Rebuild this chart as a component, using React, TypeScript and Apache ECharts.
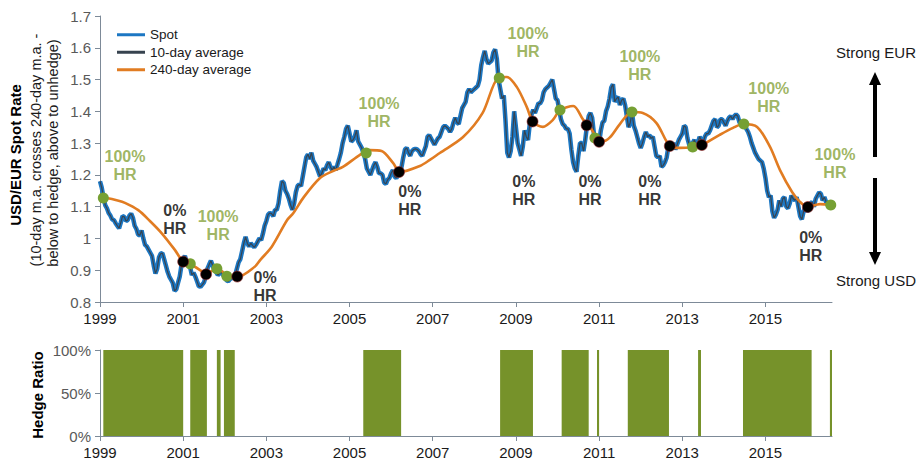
import React, { useEffect, useRef } from "react";
import * as echarts from "echarts";

// ---------- DATA ----------
const SPOT_START = 1999;
const SPOT_STEPS_PER_YEAR = 24; // semi-monthly readings

const spot1999_2003 = [
  1.180, 1.160, 1.130, 1.105, 1.095, 1.080, 1.072, 1.060, 1.058, 1.048, 1.040, 1.032, 1.050, 1.070, 1.068, 1.055, 1.058, 1.072, 1.078, 1.065, 1.040, 1.030, 1.012, 1.010,
  1.025, 1.000, 0.980, 0.975, 0.965, 0.955, 0.945, 0.915, 0.890, 0.905, 0.940, 0.952, 0.954, 0.935, 0.915, 0.895, 0.880, 0.870, 0.860, 0.835, 0.840, 0.860, 0.880, 0.915,
  0.935, 0.945, 0.925, 0.920, 0.910, 0.885, 0.892, 0.880, 0.865, 0.850, 0.848, 0.855, 0.862, 0.880, 0.905, 0.918, 0.930, 0.915, 0.900, 0.895, 0.885, 0.890, 0.895, 0.885,
  0.880, 0.868, 0.865, 0.872, 0.875, 0.880, 0.885, 0.905, 0.925, 0.935, 0.960, 0.985, 1.005, 0.985, 0.975, 0.985, 0.978, 0.972, 0.980, 0.990, 1.000, 0.995, 1.015, 1.040,
  1.055, 1.075, 1.080, 1.078, 1.070, 1.090, 1.090, 1.110, 1.150, 1.180, 1.175, 1.150, 1.140, 1.125, 1.105, 1.090, 1.110, 1.145, 1.165, 1.170, 1.165, 1.195, 1.225, 1.255,
];
const spot2004_2008 = [
  1.265, 1.250, 1.270, 1.245, 1.235, 1.225, 1.210, 1.195, 1.205, 1.220, 1.215, 1.230, 1.240, 1.225, 1.215, 1.225, 1.215, 1.232, 1.250, 1.270, 1.300, 1.320, 1.345, 1.355,
  1.330, 1.305, 1.310, 1.320, 1.340, 1.305, 1.295, 1.285, 1.270, 1.250, 1.220, 1.210, 1.200, 1.215, 1.230, 1.240, 1.225, 1.205, 1.205, 1.200, 1.175, 1.172, 1.185, 1.190,
  1.205, 1.215, 1.195, 1.190, 1.200, 1.210, 1.225, 1.255, 1.280, 1.285, 1.270, 1.260, 1.275, 1.280, 1.282, 1.280, 1.275, 1.265, 1.260, 1.275, 1.290, 1.320, 1.325, 1.315,
  1.305, 1.295, 1.305, 1.315, 1.320, 1.335, 1.350, 1.355, 1.350, 1.345, 1.335, 1.345, 1.365, 1.380, 1.365, 1.360, 1.385, 1.410, 1.420, 1.430, 1.460, 1.470, 1.460, 1.465,
  1.470, 1.475, 1.480, 1.500, 1.545, 1.570, 1.590, 1.565, 1.550, 1.555, 1.560, 1.585, 1.595, 1.565, 1.500, 1.470, 1.440, 1.450, 1.370, 1.270, 1.255, 1.275, 1.320, 1.400,
];
const spot2009_2013 = [
  1.350, 1.300, 1.280, 1.260, 1.290, 1.340, 1.320, 1.310, 1.360, 1.390, 1.405, 1.395, 1.410, 1.425, 1.425, 1.435, 1.460, 1.470, 1.475, 1.480, 1.490, 1.500, 1.470, 1.440,
  1.435, 1.405, 1.375, 1.360, 1.355, 1.345, 1.345, 1.330, 1.280, 1.240, 1.220, 1.210, 1.260, 1.300, 1.300, 1.275, 1.310, 1.355, 1.385, 1.395, 1.380, 1.330, 1.315, 1.325,
  1.300, 1.340, 1.365, 1.370, 1.400, 1.415, 1.440, 1.475, 1.485, 1.430, 1.440, 1.445, 1.420, 1.435, 1.440, 1.420, 1.385, 1.350, 1.365, 1.395, 1.355, 1.340, 1.320, 1.300,
  1.285, 1.300, 1.320, 1.335, 1.320, 1.325, 1.315, 1.320, 1.290, 1.260, 1.255, 1.260, 1.225, 1.230, 1.240, 1.255, 1.290, 1.300, 1.295, 1.300, 1.280, 1.295, 1.310, 1.320,
  1.330, 1.355, 1.350, 1.315, 1.295, 1.285, 1.300, 1.310, 1.295, 1.300, 1.320, 1.310, 1.300, 1.320, 1.330, 1.330, 1.340, 1.355, 1.370, 1.375, 1.350, 1.355, 1.375, 1.375,
];
const spot2014_2016 = [
  1.365, 1.355, 1.370, 1.380, 1.385, 1.375, 1.385, 1.390, 1.385, 1.365, 1.360, 1.365, 1.360, 1.345, 1.335, 1.320, 1.300, 1.285, 1.270, 1.260, 1.250, 1.245, 1.240, 1.220,
  1.190, 1.150, 1.130, 1.135, 1.085, 1.065, 1.075, 1.090, 1.120, 1.100, 1.125, 1.130, 1.100, 1.095, 1.110, 1.135, 1.125, 1.120, 1.130, 1.100, 1.070, 1.060, 1.085, 1.095,
  1.085, 1.090, 1.110, 1.115, 1.100, 1.125, 1.135, 1.145, 1.140, 1.120, 1.130, 1.115, 1.105, 1.110,
];

// 240-day moving average, [year, rate]
const ma240 = [
  [1999.0, 1.13], [1999.16, 1.127], [1999.4, 1.12], [1999.6, 1.112], [1999.92, 1.089], [2000.2, 1.055],
  [2000.48, 1.017], [2000.8, 0.964], [2001.0, 0.927], [2001.28, 0.911], [2001.56, 0.891], [2001.7, 0.898],
  [2001.84, 0.904], [2002.08, 0.882], [2002.32, 0.88], [2002.72, 0.911], [2002.85, 0.932], [2003.13, 0.974],
  [2003.5, 1.058], [2003.65, 1.08], [2003.9, 1.13], [2004.29, 1.19], [2004.6, 1.212], [2004.84, 1.225],
  [2005.25, 1.263], [2005.49, 1.278], [2005.77, 1.275], [2006.05, 1.237], [2006.21, 1.209], [2006.69, 1.228],
  [2006.93, 1.247], [2007.17, 1.269], [2007.73, 1.319], [2008.2, 1.395], [2008.57, 1.505], [2008.78, 1.508],
  [2009.02, 1.477], [2009.26, 1.414], [2009.41, 1.367], [2009.65, 1.351], [2009.89, 1.373], [2010.06, 1.404],
  [2010.38, 1.417], [2010.62, 1.373], [2010.78, 1.351], [2010.95, 1.316], [2011.07, 1.305], [2011.26, 1.318],
  [2011.5, 1.36], [2011.79, 1.398], [2012.05, 1.395], [2012.38, 1.363], [2012.7, 1.291], [2012.94, 1.285],
  [2013.26, 1.288], [2013.47, 1.294], [2013.9, 1.326], [2014.22, 1.348], [2014.46, 1.36], [2014.8, 1.351],
  [2015.11, 1.288], [2015.35, 1.215], [2015.64, 1.146], [2015.83, 1.115], [2016.02, 1.099], [2016.31, 1.108],
  [2016.6, 1.105],
];

// crossing markers, [year, rate]
const hedgeOnPoints = [
  [1999.08, 1.127], [2001.17, 0.92], [2001.81, 0.905], [2002.05, 0.881], [2005.4, 1.269], [2008.6, 1.505],
  [2010.06, 1.404], [2010.9, 1.316], [2011.79, 1.398], [2013.25, 1.288], [2014.48, 1.36], [2016.57, 1.105],
];
const hedgeOffPoints = [
  [2001.0, 0.927], [2001.55, 0.887], [2002.3, 0.88], [2006.19, 1.209], [2009.4, 1.368], [2010.7, 1.356],
  [2011.0, 1.304], [2012.7, 1.291], [2013.47, 1.294], [2016.02, 1.099],
];

// annotation anchors, [year, rate]
const hedgeOnNotes = [
  [1999.6, 1.228], [2001.84, 1.042], [2005.71, 1.395], [2009.29, 1.618], [2011.98, 1.543], [2015.08, 1.445], [2016.67, 1.237],
];
const hedgeOffNotes = [
  [2000.8, 1.061], [2002.97, 0.85], [2006.45, 1.118], [2009.19, 1.152], [2010.78, 1.152], [2012.22, 1.152], [2016.09, 0.976],
];

// hedge (100%) periods, [start, end]
const hedgePeriods = [
  [1999.08, 2001.0], [2001.17, 2001.57], [2001.81, 2001.9], [2001.98, 2002.24], [2005.33, 2006.24],
  [2008.62, 2009.41], [2010.1, 2010.75], [2010.95, 2011.0], [2011.69, 2012.68], [2013.38, 2013.45],
  [2014.46, 2016.11], [2016.55, 2016.6],
];

const yearTicks = [1999, 2001, 2003, 2005, 2007, 2009, 2011, 2013, 2015];
const X_MIN = 1999;
const X_MAX = 2016.6;

// ---------- STYLE ----------
const FONT = "'Liberation Sans', Arial, sans-serif";
const BLUE = "#1c77c3";
const DARK = "#37434f";
const ORANGE = "#e17c22";
const GREEN_TEXT = "#86a23a";
const GREEN_DOT = "#76a033";
const GREEN_BAR = "#76922a";
const AXIS = "#7d8a98";

export default function App() {
  const ref = useRef<HTMLDivElement>(null);

  useEffect(() => {
    if (!ref.current) return;
    const chart = echarts.init(ref.current, null, { renderer: "svg" });

    const spotAll = [...spot1999_2003, ...spot2004_2008, ...spot2009_2013, ...spot2014_2016];
    const spotData = spotAll.map((v, i) => [SPOT_START + i / SPOT_STEPS_PER_YEAR, v]);

    const hedgeData: number[][] = [];
    hedgePeriods.forEach(([s, e]) => {
      hedgeData.push([s, 0], [s, 100], [e, 100], [e, 0]);
    });

    const xAxisCommon = {
      type: "value",
      min: X_MIN,
      max: X_MAX,
      splitLine: { show: false },
      axisLine: { show: true, onZero: false, lineStyle: { color: AXIS, width: 1 } },
      axisTick: { show: true, length: 5, lineStyle: { color: AXIS }, customValues: yearTicks },
      axisLabel: {
        customValues: yearTicks,
        color: "#1a1a1a",
        fontSize: 15,
        fontFamily: FONT,
        margin: 9,
        formatter: (v: number) => String(Math.round(v)),
      },
    };

    const noteLabel = (text: string, color: string) => ({
      show: true,
      position: "inside",
      formatter: text,
      color,
      fontSize: 16,
      fontWeight: "bold",
      lineHeight: 18,
      fontFamily: FONT,
    });

    chart.setOption({
      animation: false,
      textStyle: { fontFamily: FONT },
      grid: [
        { left: 100, top: 16, width: 732, height: 286 },
        { left: 100, top: 350, width: 732, height: 86 },
      ],
      xAxis: [
        { ...xAxisCommon, gridIndex: 0 },
        { ...xAxisCommon, gridIndex: 1 },
      ],
      yAxis: [
        {
          type: "value",
          gridIndex: 0,
          min: 0.8,
          max: 1.7,
          interval: 0.1,
          splitLine: { show: false },
          axisLine: { show: true, lineStyle: { color: AXIS } },
          axisTick: { show: true, length: 5, lineStyle: { color: AXIS } },
          axisLabel: { color: "#595959", fontSize: 15, fontFamily: FONT, margin: 9 },
        },
        {
          type: "value",
          gridIndex: 1,
          min: 0,
          max: 100,
          interval: 50,
          splitLine: { show: false },
          axisLine: { show: true, lineStyle: { color: AXIS } },
          axisTick: { show: true, length: 5, lineStyle: { color: AXIS } },
          axisLabel: { color: "#595959", fontSize: 15, fontFamily: FONT, margin: 9, formatter: "{value}%" },
        },
      ],
      legend: {
        left: 112,
        top: 22,
        orient: "vertical",
        itemWidth: 28,
        itemHeight: 3,
        itemGap: 2,
        icon: "rect",
        data: [
          { name: "Spot", itemStyle: { color: BLUE } },
          { name: "10-day average", itemStyle: { color: DARK } },
          { name: "240-day average", itemStyle: { color: ORANGE } },
        ],
        textStyle: { fontSize: 13.5, lineHeight: 15.5, color: "#1a1a1a", fontFamily: FONT },
        selectedMode: false,
      },
      series: [
        {
          name: "Spot",
          type: "line",
          data: spotData,
          symbol: "none",
          lineStyle: { color: BLUE, width: 4.5 },
          itemStyle: { color: BLUE },
          z: 2,
        },
        {
          name: "10-day average",
          type: "line",
          data: spotData,
          symbol: "none",
          lineStyle: { color: DARK, width: 1.2 },
          itemStyle: { color: DARK },
          z: 3,
        },
        {
          name: "240-day average",
          type: "line",
          data: ma240,
          symbol: "none",
          smooth: 0.3,
          lineStyle: { color: ORANGE, width: 2.6 },
          itemStyle: { color: ORANGE },
          z: 4,
        },
        {
          name: "hedgeOn",
          type: "scatter",
          data: hedgeOnPoints,
          symbolSize: 11,
          itemStyle: { color: GREEN_DOT, opacity: 1 },
          z: 5,
        },
        {
          name: "hedgeOff",
          type: "scatter",
          data: hedgeOffPoints,
          symbolSize: 11,
          itemStyle: { color: "#000000", borderColor: "#9a2a2a", borderWidth: 0.6, opacity: 1 },
          z: 5,
        },
        {
          name: "onNotes",
          type: "scatter",
          data: hedgeOnNotes,
          clip: false,
          symbolSize: 1,
          itemStyle: { color: "rgba(0,0,0,0)" },
          label: noteLabel("100%\nHR", GREEN_TEXT),
          z: 6,
        },
        {
          name: "offNotes",
          type: "scatter",
          data: hedgeOffNotes,
          clip: false,
          symbolSize: 1,
          itemStyle: { color: "rgba(0,0,0,0)" },
          label: noteLabel("0%\nHR", "#000000"),
          z: 6,
        },
        {
          name: "Hedge Ratio",
          type: "line",
          xAxisIndex: 1,
          yAxisIndex: 1,
          data: hedgeData,
          symbol: "none",
          lineStyle: { width: 0 },
          areaStyle: { color: GREEN_BAR, opacity: 1 },
          itemStyle: { color: GREEN_BAR },
        },
      ],
      graphic: [
        {
          type: "text",
          x: 15,
          y: 155,
          rotation: Math.PI / 2,
          style: { text: "USD/EUR Spot Rate", font: `bold 15px ${FONT}`, fill: "#000", align: "center", verticalAlign: "middle" },
        },
        {
          type: "text",
          x: 36,
          y: 150,
          rotation: Math.PI / 2,
          style: { text: "(10-day m.a. crosses 240-day m.a. -", font: `14.5px ${FONT}`, fill: "#1a1a1a", align: "center", verticalAlign: "middle" },
        },
        {
          type: "text",
          x: 53,
          y: 153,
          rotation: Math.PI / 2,
          style: { text: "below to hedge, above to unhedge)", font: `14.5px ${FONT}`, fill: "#1a1a1a", align: "center", verticalAlign: "middle" },
        },
        {
          type: "text",
          x: 37,
          y: 395,
          rotation: Math.PI / 2,
          style: { text: "Hedge Ratio", font: `bold 15px ${FONT}`, fill: "#000", align: "center", verticalAlign: "middle" },
        },
        {
          type: "text",
          x: 836,
          y: 52,
          style: { text: "Strong EUR", font: `15px ${FONT}`, fill: "#1a1a1a", align: "left", verticalAlign: "middle" },
        },
        {
          type: "text",
          x: 836,
          y: 280,
          style: { text: "Strong USD", font: `15px ${FONT}`, fill: "#1a1a1a", align: "left", verticalAlign: "middle" },
        },
        { type: "line", shape: { x1: 875, y1: 84, x2: 875, y2: 157 }, style: { stroke: "#000", lineWidth: 4 } },
        { type: "polygon", shape: { points: [[875, 72], [869, 85], [881, 85]] }, style: { fill: "#000" } },
        { type: "line", shape: { x1: 875, y1: 178, x2: 875, y2: 253 }, style: { stroke: "#000", lineWidth: 4 } },
        { type: "polygon", shape: { points: [[875, 265], [869, 252], [881, 252]] }, style: { fill: "#000" } },
      ],
    });

    return () => chart.dispose();
  }, []);

  return (
    <div
      ref={ref}
      style={{ position: "fixed", left: 0, top: 0, width: 920, height: 464, background: "#fff" }}
    />
  );
}
